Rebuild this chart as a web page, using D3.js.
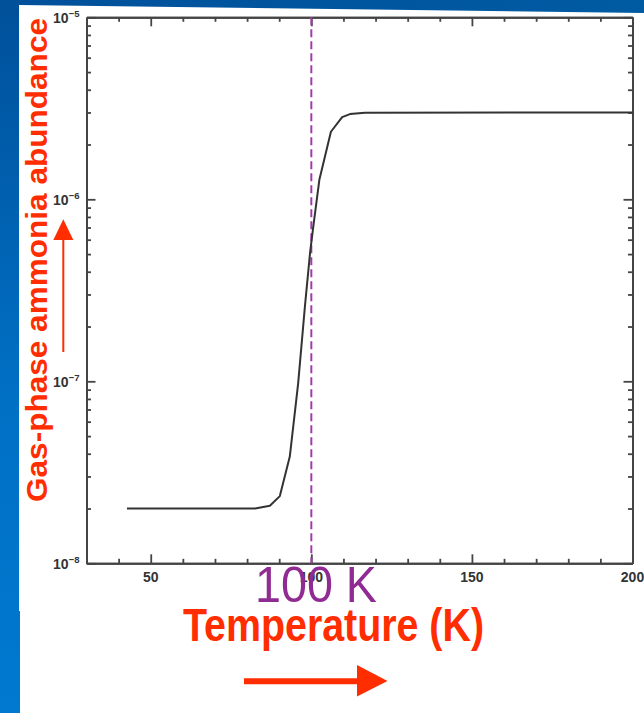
<!DOCTYPE html>
<html>
<head>
<meta charset="utf-8">
<script src="https://cdn.jsdelivr.net/npm/d3@7"></script>
<style>
  html, body { margin: 0; padding: 0; background: #ffffff; }
  svg { display: block; }
  text { font-family: "Liberation Sans", Arial, Helvetica, sans-serif; }
</style>
</head>
<body>
<svg id="chart" width="644" height="713"></svg>
<script>
// ---- data ----
const tempK        = [42.6, 82.5, 87.1, 90.2, 93.3, 95.9, 98.0, 99.6, 100.6, 102.5, 106.1, 109.6, 112.0, 116.7, 200];
const nh3Abundance = [2.0e-8, 2.0e-8, 2.07e-8, 2.34e-8, 3.86e-8, 9.75e-8, 2.57e-7, 5.07e-7, 7.06e-7, 1.28e-6, 2.35e-6, 2.83e-6, 2.94e-6, 2.99e-6, 3.0e-6];
const xTickValues  = [50, 100, 150, 200];
const xTickLabels  = ["50", "100", "150", "200"];
const xMinorTicks  = [40, 60, 70, 80, 90, 110, 120, 130, 140, 160, 170, 180, 190];
const yTickValues  = [1e-8, 1e-7, 1e-6, 1e-5];
const yTickExponents = ["\u22128", "\u22127", "\u22126", "\u22125"];
const markerTemp   = 100;
const markerLabel  = "100 K";
const xTitle       = "Temperature (K)";
const yTitle       = "Gas-phase ammonia abundance";

// ---- layout ----
const svg = d3.select("#chart");
const W = 644, H = 713;
const plot = { left: 86.5, right: 632.5, top: 17.3, bottom: 563.3 };

const x = d3.scaleLinear().domain([30, 200]).range([plot.left, plot.right]);
const y = d3.scaleLog().domain([1e-8, 1e-5]).range([plot.bottom, plot.top]);

// minor log ticks
const yMinorTicks = [];
for (let k = -8; k <= -6; k++) for (let m = 2; m <= 9; m++) yMinorTicks.push(m * Math.pow(10, k));

// ---- background (slide) ----
const defs = svg.append("defs");
const grad = defs.append("linearGradient").attr("id", "bg").attr("x1", 0).attr("y1", 0).attr("x2", 0).attr("y2", 1);
grad.append("stop").attr("offset", "0%").attr("stop-color", "#00509a");
grad.append("stop").attr("offset", "55%").attr("stop-color", "#0070c4");
grad.append("stop").attr("offset", "100%").attr("stop-color", "#0079d0");
svg.append("rect").attr("width", W).attr("height", H).attr("fill", "url(#bg)");
const topGrad = defs.append("linearGradient").attr("id", "topbg").attr("x1", 0).attr("y1", 0).attr("x2", 1).attr("y2", 0);
topGrad.append("stop").attr("offset", "0%").attr("stop-color", "#00509a");
topGrad.append("stop").attr("offset", "100%").attr("stop-color", "#005ba3");
svg.append("rect").attr("width", W).attr("height", 16).attr("fill", "url(#topbg)");
svg.append("polygon")
  .attr("points", "19,5 644,13 644,713 20,713 20,611 19,611")
  .attr("fill", "#ffffff");

const axisColor = "#444444";
const g = svg.append("g");

function styleAxis(sel) {
  sel.selectAll("path.domain").attr("stroke", axisColor).attr("stroke-width", 2);
  sel.selectAll(".tick line").attr("stroke", axisColor).attr("stroke-width", 1.8);
  sel.selectAll(".tick text").remove();
}

// bottom axis (ticks pointing inward)
g.append("g").attr("transform", `translate(0,${plot.bottom})`)
  .call(d3.axisBottom(x).tickValues(xTickValues).tickSize(-9).tickSizeOuter(0).tickFormat(""))
  .call(styleAxis);
g.append("g").attr("transform", `translate(0,${plot.bottom})`)
  .call(d3.axisBottom(x).tickValues(xMinorTicks).tickSize(-4.5).tickSizeOuter(0).tickFormat(""))
  .call(styleAxis);
// top axis
g.append("g").attr("transform", `translate(0,${plot.top})`)
  .call(d3.axisTop(x).tickValues(xTickValues).tickSize(-9).tickSizeOuter(0).tickFormat(""))
  .call(styleAxis);
g.append("g").attr("transform", `translate(0,${plot.top})`)
  .call(d3.axisTop(x).tickValues(xMinorTicks).tickSize(-4.5).tickSizeOuter(0).tickFormat(""))
  .call(styleAxis);
// left axis
g.append("g").attr("transform", `translate(${plot.left},0)`)
  .call(d3.axisLeft(y).tickValues(yTickValues).tickSize(-9).tickSizeOuter(0).tickFormat(""))
  .call(styleAxis);
g.append("g").attr("transform", `translate(${plot.left},0)`)
  .call(d3.axisLeft(y).tickValues(yMinorTicks).tickSize(-4.5).tickSizeOuter(0).tickFormat(""))
  .call(styleAxis);
// right axis
g.append("g").attr("transform", `translate(${plot.right},0)`)
  .call(d3.axisRight(y).tickValues(yTickValues).tickSize(-9).tickSizeOuter(0).tickFormat(""))
  .call(styleAxis);
g.append("g").attr("transform", `translate(${plot.right},0)`)
  .call(d3.axisRight(y).tickValues(yMinorTicks).tickSize(-4.5).tickSizeOuter(0).tickFormat(""))
  .call(styleAxis);

// tick labels
g.selectAll("text.xlab").data(xTickValues).join("text")
  .attr("class", "xlab")
  .attr("x", d => x(d)).attr("y", plot.bottom + 18.5)
  .attr("text-anchor", "middle")
  .attr("font-size", 14).attr("font-weight", "bold").attr("fill", "#333333")
  .text((d, i) => xTickLabels[i]);

const yl = g.selectAll("text.ylab").data(yTickValues).join("text")
  .attr("class", "ylab")
  .attr("x", 79.5).attr("y", d => y(d) + 5.7)
  .attr("text-anchor", "end")
  .attr("font-weight", "bold").attr("fill", "#333333");
yl.append("tspan").attr("font-size", 14).text("10");
yl.append("tspan").attr("font-size", 9.5).attr("dy", -6).text((d, i) => yTickExponents[i]);

// dashed marker line
g.append("line")
  .attr("x1", x(markerTemp)).attr("x2", x(markerTemp))
  .attr("y1", plot.top).attr("y2", plot.bottom)
  .attr("stroke", "#a43aab").attr("stroke-width", 2)
  .attr("stroke-dasharray", "8,4");

// curve
const line = d3.line().x((d, i) => x(tempK[i])).y((d, i) => y(nh3Abundance[i]));
g.append("path").datum(tempK)
  .attr("d", line)
  .attr("fill", "none").attr("stroke", "#333333").attr("stroke-width", 2)
  .attr("stroke-linejoin", "round");

// marker label
g.append("text")
  .attr("x", 255).attr("y", 601.5)
  .attr("font-size", 50).attr("fill", "#912b94")
  .attr("textLength", 122).attr("lengthAdjust", "spacingAndGlyphs")
  .text(markerLabel);

// axis titles
const red = "#ff2d00";
g.append("text")
  .attr("x", 183).attr("y", 641)
  .attr("font-size", 46).attr("font-weight", "bold").attr("fill", red)
  .attr("textLength", 301).attr("lengthAdjust", "spacingAndGlyphs")
  .text(xTitle);

g.append("text")
  .attr("transform", `translate(47,502) rotate(-90)`)
  .attr("font-size", 30).attr("font-weight", "bold").attr("fill", red)
  .attr("textLength", 484).attr("lengthAdjust", "spacingAndGlyphs")
  .text(yTitle);

// arrows
g.append("line").attr("x1", 244).attr("x2", 360).attr("y1", 681.3).attr("y2", 681.3)
  .attr("stroke", red).attr("stroke-width", 6);
g.append("polygon").attr("points", "357,665 387.5,681 357,696.5").attr("fill", red);

g.append("line").attr("x1", 63.3).attr("x2", 63.3).attr("y1", 352).attr("y2", 238)
  .attr("stroke", red).attr("stroke-width", 2);
g.append("polygon").attr("points", "53.3,240 63.3,219.3 73.3,240").attr("fill", red);
</script>
</body>
</html>
